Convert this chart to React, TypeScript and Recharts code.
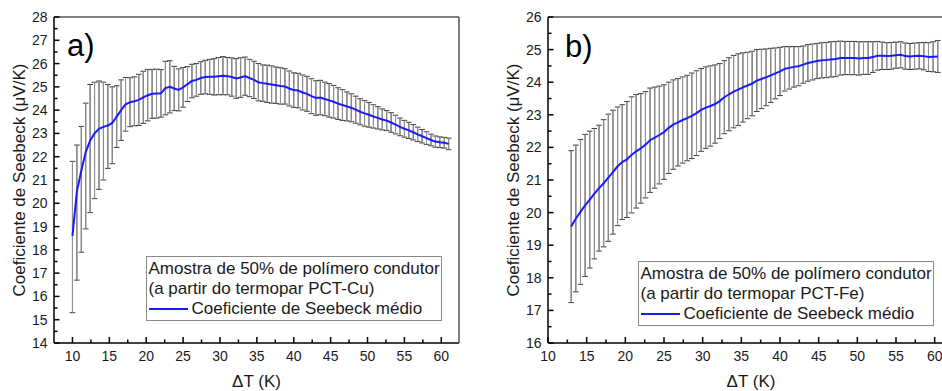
import { LineChart, Line, XAxis, YAxis, ErrorBar } from 'recharts';

// ---------------------------------------------------------------------------
// Data
// ---------------------------------------------------------------------------

// a) PCT-Cu
const DT_A = [
  10.0, 10.6, 11.2, 11.8, 12.4, 13.0, 13.6, 14.2, 14.8, 15.4,
  16.0, 16.6, 17.2, 17.8, 18.4, 19.0, 19.6, 20.2, 20.8, 21.4,
  22.0, 22.6, 23.2, 23.8, 24.4, 25.0, 25.6, 26.2, 26.8, 27.4,
  28.0, 28.6, 29.2, 29.8, 30.4, 31.0, 31.6, 32.2, 32.8, 33.4,
  34.0, 34.6, 35.2, 35.8, 36.4, 37.0, 37.6, 38.2, 38.8, 39.4,
  40.0, 40.6, 41.2, 41.8, 42.4, 43.0, 43.6, 44.2, 44.8, 45.4,
  46.0, 46.6, 47.2, 47.8, 48.4, 49.0, 49.6, 50.2, 50.8, 51.4,
  52.0, 52.6, 53.2, 53.8, 54.4, 55.0, 55.6, 56.2, 56.8, 57.4,
  58.0, 58.6, 59.2, 59.8, 60.4, 61.0,
];

const MEAN_A = [
  18.6, 20.5, 21.4, 22.2, 22.7, 23.0, 23.2, 23.28, 23.34, 23.45,
  23.72, 24.0, 24.25, 24.34, 24.38, 24.44, 24.55, 24.64, 24.7, 24.71,
  24.72, 24.95, 25.0, 24.93, 24.87, 24.98, 25.12, 25.25, 25.3, 25.38,
  25.42, 25.43, 25.43, 25.46, 25.48, 25.46, 25.42, 25.36, 25.4, 25.46,
  25.38, 25.3, 25.2, 25.16, 25.13, 25.1, 25.07, 25.04, 25.02, 24.93,
  24.86, 24.84, 24.76, 24.7, 24.6, 24.52, 24.54, 24.48, 24.42, 24.36,
  24.28, 24.22, 24.16, 24.1, 24.02, 23.93, 23.86, 23.8, 23.73, 23.67,
  23.6, 23.55, 23.47, 23.38, 23.28, 23.2, 23.13, 23.05, 22.96, 22.88,
  22.8, 22.72, 22.65, 22.62, 22.6, 22.55,
];

// upper / lower error (the first bars sit lower than the mean line)
const ERR_A_UP = [
  3.2, 2.0, 1.9, 2.1, 2.4, 2.2, 2.05, 1.92, 1.76, 1.55,
  1.33, 1.3, 1.15, 1.05, 1.05, 1.1, 1.12, 1.1, 1.05, 1.05,
  1.02, 1.15, 1.12, 0.95, 0.9, 0.85, 0.75, 0.72, 0.7, 0.7,
  0.72, 0.75, 0.78, 0.8, 0.82, 0.8, 0.82, 0.85, 0.85, 0.82,
  0.8, 0.8, 0.8, 0.78, 0.8, 0.8, 0.78, 0.78, 0.76, 0.75,
  0.74, 0.74, 0.75, 0.75, 0.75, 0.74, 0.74, 0.72, 0.72, 0.7,
  0.68, 0.66, 0.62, 0.6, 0.58, 0.56, 0.55, 0.53, 0.5, 0.48,
  0.45, 0.43, 0.42, 0.4, 0.38, 0.36, 0.35, 0.33, 0.31, 0.29,
  0.27, 0.25, 0.24, 0.23, 0.23, 0.25,
];

const ERR_A_DOWN = [
  3.3, 3.8, 3.5, 3.3, 3.1, 2.8, 2.6, 2.28, 1.84, 1.75,
  1.32, 1.3, 1.15, 1.05, 1.05, 1.1, 1.12, 1.1, 1.05, 1.05,
  1.02, 1.15, 1.12, 0.95, 0.9, 0.85, 0.75, 0.72, 0.7, 0.7,
  0.72, 0.75, 0.78, 0.8, 0.82, 0.8, 0.82, 0.85, 0.85, 0.82,
  0.8, 0.8, 0.8, 0.78, 0.8, 0.8, 0.78, 0.78, 0.76, 0.75,
  0.74, 0.74, 0.75, 0.75, 0.75, 0.74, 0.74, 0.72, 0.72, 0.7,
  0.68, 0.66, 0.62, 0.6, 0.58, 0.56, 0.55, 0.53, 0.5, 0.48,
  0.45, 0.43, 0.42, 0.4, 0.38, 0.36, 0.35, 0.33, 0.31, 0.29,
  0.27, 0.25, 0.24, 0.23, 0.23, 0.25,
];

// b) PCT-Fe
const DT_B = [
  13.0, 13.6, 14.2, 14.8, 15.4, 16.0, 16.6, 17.2, 17.8, 18.4,
  19.0, 19.6, 20.2, 20.8, 21.4, 22.0, 22.6, 23.2, 23.8, 24.4,
  25.0, 25.6, 26.2, 26.8, 27.4, 28.0, 28.6, 29.2, 29.8, 30.4,
  31.0, 31.6, 32.2, 32.8, 33.4, 34.0, 34.6, 35.2, 35.8, 36.4,
  37.0, 37.6, 38.2, 38.8, 39.4, 40.0, 40.6, 41.2, 41.8, 42.4,
  43.0, 43.6, 44.2, 44.8, 45.4, 46.0, 46.6, 47.2, 47.8, 48.4,
  49.0, 49.6, 50.2, 50.8, 51.4, 52.0, 52.6, 53.2, 53.8, 54.4,
  55.0, 55.6, 56.2, 56.8, 57.4, 58.0, 58.6, 59.2, 59.8, 60.4,
];

const MEAN_B = [
  19.57, 19.82, 20.02, 20.22, 20.4, 20.58, 20.75, 20.9, 21.07, 21.24,
  21.42, 21.55, 21.63, 21.77, 21.88, 21.97, 22.08, 22.22, 22.3, 22.38,
  22.47, 22.6, 22.7, 22.77, 22.84, 22.9, 22.97, 23.05, 23.15, 23.22,
  23.27, 23.33, 23.42, 23.54, 23.63, 23.71, 23.77, 23.84, 23.9, 23.96,
  24.05, 24.1, 24.15, 24.21, 24.27, 24.33, 24.41, 24.44, 24.47, 24.49,
  24.54, 24.59, 24.62, 24.65, 24.67, 24.68, 24.7, 24.71, 24.74, 24.74,
  24.74, 24.74, 24.73, 24.74, 24.74, 24.77, 24.81, 24.81, 24.8, 24.81,
  24.83, 24.84, 24.8, 24.79, 24.8, 24.81, 24.8, 24.77, 24.78, 24.79,
];

const ERR_B = [
  2.33, 2.25, 2.22, 2.18, 2.1, 2.0, 1.93, 1.95, 1.95, 1.9,
  1.82, 1.76, 1.78, 1.78, 1.74, 1.68, 1.63, 1.6, 1.55, 1.5,
  1.45, 1.4, 1.37, 1.34, 1.32, 1.31, 1.31, 1.3, 1.27, 1.25,
  1.23, 1.2, 1.15, 1.12, 1.12, 1.11, 1.1, 1.06, 1.02, 0.99,
  0.95, 0.91, 0.87, 0.83, 0.78, 0.74, 0.68, 0.65, 0.62, 0.6,
  0.57, 0.56, 0.55, 0.54, 0.54, 0.54, 0.54, 0.54, 0.52, 0.51,
  0.51, 0.51, 0.51, 0.5, 0.5, 0.47, 0.44, 0.42, 0.41, 0.41,
  0.4, 0.4, 0.4, 0.4, 0.4, 0.4, 0.42, 0.44, 0.46, 0.49,
];

// Ticks (major ones get a label)
const X_TICKS = [
  10, 12.5, 15, 17.5, 20, 22.5, 25, 27.5, 30, 32.5, 35,
  37.5, 40, 42.5, 45, 47.5, 50, 52.5, 55, 57.5, 60,
];
const Y_TICKS_A = [
  14, 14.5, 15, 15.5, 16, 16.5, 17, 17.5, 18, 18.5, 19, 19.5, 20, 20.5, 21,
  21.5, 22, 22.5, 23, 23.5, 24, 24.5, 25, 25.5, 26, 26.5, 27, 27.5, 28,
];
const Y_TICKS_B = [
  16, 16.5, 17, 17.5, 18, 18.5, 19, 19.5, 20, 20.5, 21,
  21.5, 22, 22.5, 23, 23.5, 24, 24.5, 25, 25.5, 26,
];

const LEGEND_TITLE = 'Amostra de 50% de polímero condutor';
const LEGEND_SERIES = 'Coeficiente de Seebeck médio';

// ---------------------------------------------------------------------------
// Style constants
// ---------------------------------------------------------------------------

const FONT = '"Liberation Sans", Arial, sans-serif';
const TEXT = '#1a1a1a';
const BLUE = '#1a1aff';
const HEIGHT = 391;

// ---------------------------------------------------------------------------
// Custom ticks: inward tick marks, labels only on majors
// ---------------------------------------------------------------------------

function XTick(props: any) {
  const { x, y, payload } = props;
  const major = payload.value % 5 === 0;
  return (
    <g>
      <line x1={x} x2={x} y1={y} y2={y - (major ? 6 : 3.5)} stroke="#000" strokeWidth={1.5} />
      {major && (
        <text x={x} y={y + 8.5} dy="0.71em" textAnchor="middle" fontSize={14} fill={TEXT}>
          {payload.value}
        </text>
      )}
    </g>
  );
}

function YTick(props: any) {
  const { x, y, payload } = props;
  const major = Number.isInteger(payload.value);
  return (
    <g>
      <line x1={x} x2={x + (major ? 5.5 : 3.5)} y1={y} y2={y} stroke="#000" strokeWidth={1.5} />
      {major && (
        <text x={x - 6.5} y={y} dy="0.36em" textAnchor="end" fontSize={14} fill={TEXT}>
          {payload.value}
        </text>
      )}
    </g>
  );
}

// ---------------------------------------------------------------------------
// One panel
// ---------------------------------------------------------------------------

interface PanelProps {
  dt: number[];
  mean: number[];
  errUp: number[];
  errDown: number[];
  width: number;
  right: number;
  yAxisWidth: number;
  yLabelOffset: number;
  xDomain: [number, number];
  yDomain: [number, number];
  yTicks: number[];
}

function Panel({ dt, mean, errUp, errDown, width, right, yAxisWidth, yLabelOffset, xDomain, yDomain, yTicks }: PanelProps) {
  // ErrorBar takes [lower, upper] for asymmetric errors
  const rows = dt.map((x, i) => ({ x, mean: mean[i], err: [errDown[i], errUp[i]] }));
  return (
    <LineChart width={width} height={HEIGHT} data={rows} margin={{ top: 17, right, bottom: 0, left: 0 }}>
      <XAxis
        dataKey="x"
        type="number"
        domain={xDomain}
        allowDataOverflow
        ticks={X_TICKS}
        interval={0}
        height={48}
        tickSize={0}
        tickMargin={0}
        tickLine={false}
        tick={<XTick />}
        stroke="#000"
        axisLine={{ stroke: '#000', strokeWidth: 1.5 }}
        label={{ value: 'ΔT (K)', position: 'insideBottom', offset: 4.5, fontSize: 17, fill: TEXT }}
      />
      <XAxis
        xAxisId="top"
        orientation="top"
        mirror
        dataKey="x"
        type="number"
        domain={xDomain}
        allowDataOverflow
        tick={false}
        tickLine={false}
        axisLine={{ stroke: '#000', strokeWidth: 1 }}
      />
      <YAxis
        type="number"
        domain={yDomain}
        allowDataOverflow
        ticks={yTicks}
        interval={0}
        width={yAxisWidth}
        tickSize={0}
        tickMargin={0}
        tickLine={false}
        tick={<YTick />}
        stroke="#000"
        axisLine={{ stroke: '#000', strokeWidth: 1.5 }}
        label={{
          value: 'Coeficiente de Seebeck (μV/K)',
          angle: -90,
          position: 'insideLeft',
          offset: yLabelOffset,
          fontSize: 17,
          fill: TEXT,
          style: { textAnchor: 'middle' },
        }}
      />
      <YAxis
        yAxisId="right"
        orientation="right"
        mirror
        type="number"
        domain={yDomain}
        allowDataOverflow
        tick={false}
        tickLine={false}
        axisLine={{ stroke: '#555', strokeWidth: 1.5 }}
      />

      {/* error bars: dark caps underneath, grey stems on top */}
      <Line dataKey="mean" stroke="none" dot={false} activeDot={false} isAnimationActive={false}>
        <ErrorBar dataKey="err" direction="y" width={2.8} stroke="#3a3a3a" strokeWidth={1} isAnimationActive={false} />
        <ErrorBar dataKey="err" direction="y" width={0} stroke="#959595" strokeWidth={1} isAnimationActive={false} />
      </Line>
      <Line
        type="linear"
        dataKey="mean"
        stroke={BLUE}
        strokeWidth={2}
        dot={false}
        activeDot={false}
        isAnimationActive={false}
      />
    </LineChart>
  );
}

// ---------------------------------------------------------------------------
// Legend box
// ---------------------------------------------------------------------------

function LegendBox({ left, top, probe }: { left: number; top: number; probe: string }) {
  return (
    <div
      style={{
        position: 'absolute',
        left,
        top,
        width: 296,
        height: 65,
        boxSizing: 'border-box',
        border: '1.5px solid #8a8a8a',
        background: '#fff',
        padding: '2px 0 0 2px',
        fontSize: 17,
        lineHeight: '20px',
        color: TEXT,
        whiteSpace: 'nowrap',
      }}
    >
      <div>{LEGEND_TITLE}</div>
      <div>(a partir do termopar {probe})</div>
      <div style={{ display: 'flex', alignItems: 'center' }}>
        <span style={{ display: 'inline-block', width: 39, height: 2, background: BLUE, marginRight: 4 }} />
        <span>{LEGEND_SERIES}</span>
      </div>
    </div>
  );
}

// ---------------------------------------------------------------------------
// App
// ---------------------------------------------------------------------------

export default function App() {
  return (
    <div
      style={{
        position: 'fixed',
        left: 0,
        top: 0,
        width: 942,
        height: HEIGHT,
        overflow: 'hidden',
        background: '#fff',
        fontFamily: FONT,
      }}
    >
      <div style={{ position: 'absolute', left: 0, top: 0 }}>
        <Panel
          dt={DT_A}
          mean={MEAN_A}
          errUp={ERR_A_UP}
          errDown={ERR_A_DOWN}
          width={470}
          right={11}
          yAxisWidth={54}
          yLabelOffset={19}
          xDomain={[7.5, 62.4]}
          yDomain={[14, 28]}
          yTicks={Y_TICKS_A}
        />
      </div>
      <div style={{ position: 'absolute', left: 470, top: 0 }}>
        <Panel
          dt={DT_B}
          mean={MEAN_B}
          errUp={ERR_B}
          errDown={ERR_B}
          width={494}
          right={10}
          yAxisWidth={78}
          yLabelOffset={43}
          xDomain={[10, 62.5]}
          yDomain={[16, 26]}
          yTicks={Y_TICKS_B}
        />
      </div>

      <div style={{ position: 'absolute', left: 67, top: 30, fontSize: 31, lineHeight: 1, color: '#000' }}>a)</div>
      <div style={{ position: 'absolute', left: 565, top: 31, fontSize: 31, lineHeight: 1, color: '#000' }}>b)</div>

      <LegendBox left={145.5} top={255.5} probe="PCT-Cu" />
      <LegendBox left={637.5} top={260.5} probe="PCT-Fe" />
    </div>
  );
}
